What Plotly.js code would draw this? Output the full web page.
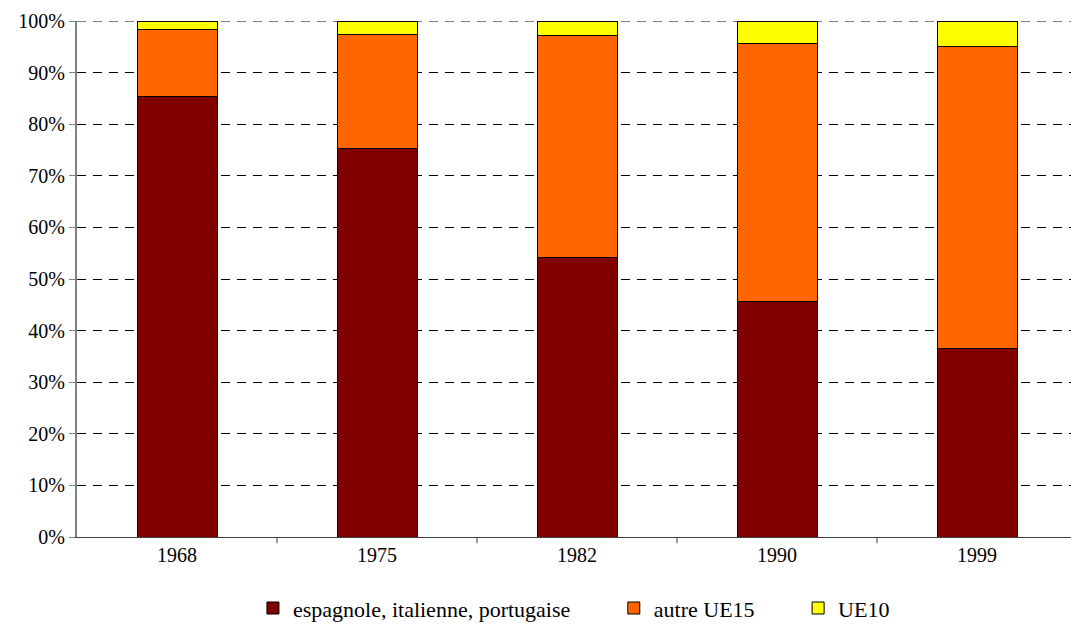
<!DOCTYPE html>
<html>
<head>
<meta charset="utf-8">
<script src="https://cdn.plot.ly/plotly-3.0.1.min.js"></script>
<style>html,body{margin:0;padding:0;background:#fff;}</style>
</head>
<body>
<div id="chart" style="width:1071px;height:624px;"></div>
<script>
const years = ['1968', '1975', '1982', '1990', '1999'];
const espagnole = [85.3, 75.2, 54.1, 45.7, 36.6];
const autreUE15 = [13.1, 22.1, 43.0, 50.0, 58.4];
const ue10 = [1.6, 2.7, 2.9, 4.3, 5.0];
const seriesNames = ['espagnole, italienne, portugaise', 'autre UE15', 'UE10'];
const yTickVals = [0, 10, 20, 30, 40, 50, 60, 70, 80, 90, 100];
const yTickText = ['0%', '10%', '20%', '30%', '40%', '50%', '60%', '70%', '80%', '90%', '100%'];

const colors = ['#800000', '#FF6600', '#FFFF00'];
const vals = [espagnole, autreUE15, ue10];
const pad = '\u00A0'.repeat(7);
const traces = vals.map((v, i) => ({
  type: 'bar',
  x: years,
  y: v,
  name: seriesNames[i] + (i < vals.length - 1 ? pad : ''),
  width: 0.4,
  marker: {color: colors[i], line: {color: '#000', width: 1}},
  hoverinfo: 'x+y+name'
}));

const fam = "Liberation Serif, Times New Roman, serif";
const font = {family: fam, size: 20, color: '#000'};
const legFont = {family: fam, size: 22, color: '#000'};

const layout = {
  width: 1071, height: 624,
  margin: {l: 77, r: 0, t: 21, b: 87, autoexpand: false},
  barmode: 'stack',
  paper_bgcolor: '#fff', plot_bgcolor: '#fff',
  font: font,
  showlegend: true,
  xaxis: {
    type: 'category',
    range: [-0.5, 4.47],
    showgrid: false,
    showline: true, linecolor: '#404040', linewidth: 1,
    ticks: '', tickfont: font,
    zeroline: false
  },
  yaxis: {
    range: [0, 100],
    tickvals: yTickVals, ticktext: yTickText,
    showgrid: true, gridcolor: '#000', griddash: '9px,7px', gridwidth: 1,
    showline: true, linecolor: '#808080', linewidth: 2,
    ticks: 'outside', ticklen: 6, tickcolor: '#808080', tickwidth: 1,
    tickfont: font, zeroline: false, fixedrange: true
  },
  legend: {
    orientation: 'h', x: 0.177, xanchor: 'left', y: -0.138, yanchor: 'middle',
    font: legFont, traceorder: 'normal', itemwidth: 30
  },
  shapes: [1, 2, 3, 4].map(k => ({
    type: 'line', xref: 'x', yref: 'paper',
    x0: k - 0.5, x1: k - 0.5, y0: 0, y1: -0.012,
    line: {color: '#404040', width: 1}
  })).concat([{
    type: 'line', xref: 'paper', yref: 'y', layer: 'below',
    x0: 0, x1: 1, y0: 100, y1: 100,
    line: {color: '#000', width: 1, dash: '9px,7px'}
  }])
};

Plotly.newPlot('chart', traces, layout, {displayModeBar: false, staticPlot: true});
</script>
</body>
</html>
